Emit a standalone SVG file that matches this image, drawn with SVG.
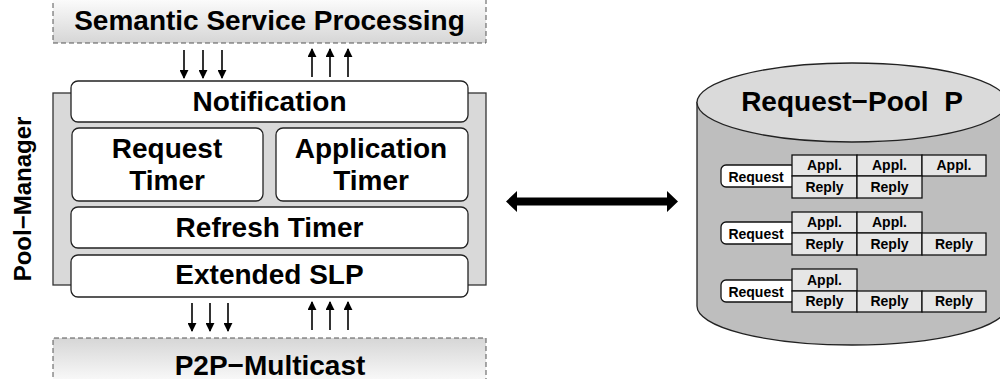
<svg xmlns="http://www.w3.org/2000/svg" width="1000" height="379" viewBox="0 0 1000 379">
<style>
text{font-family:"Liberation Sans",Arial,Helvetica,sans-serif;font-weight:bold;fill:#000}
.big{font-size:28px}
.sm{font-size:14px}
.box{fill:#fff;stroke:#222;stroke-width:1.3}
.dash{stroke:#555;stroke-width:1;stroke-dasharray:5 3}
.cell{fill:#e6e6e6;stroke:#111;stroke-width:1.3}
.pill{fill:#fff;stroke:#111;stroke-width:1.3}
.ar{stroke:#000;stroke-width:1.6;fill:none}
</style>
<defs>
<linearGradient id="gTop" x1="0" y1="0" x2="0" y2="1">
<stop offset="0" stop-color="#ffffff"/>
<stop offset="1" stop-color="#d6d6d6"/>
</linearGradient>
<linearGradient id="gBot" x1="0" y1="0" x2="0" y2="1">
<stop offset="0" stop-color="#d6d6d6"/>
<stop offset="1" stop-color="#ffffff"/>
</linearGradient>
<marker id="ah" viewBox="0 0 10 10" refX="9" refY="5" markerWidth="9" markerHeight="9" markerUnits="userSpaceOnUse" orient="auto">
<path d="M0,0 L10,5 L0,10 z" fill="#000"/>
</marker>
</defs>

<g id="semantic">
<rect x="53" y="-5" width="433" height="48" fill="url(#gTop)"/>
<path class="dash" d="M53,-5 V43 H486 V-5" fill="none"/>
<text class="big" x="269.5" y="30" text-anchor="middle">Semantic Service Processing</text>
</g>

<g id="p2p">
<rect x="53" y="338" width="433" height="50" fill="url(#gBot)"/>
<path class="dash" d="M53,385 V338 H486 V385" fill="none"/>
<text class="big" x="270" y="375" text-anchor="middle">P2P−Multicast</text>
</g>

<g id="pool-manager">
<rect x="53" y="93" width="433" height="192" fill="#d9d9d9" stroke="#333" stroke-width="1.3"/>
<text x="31" y="199" font-size="24" text-anchor="middle" transform="rotate(-90 31 199)">Pool−Manager</text>
</g>

<g id="notification">
<rect class="box" x="71" y="81" width="397" height="41" rx="7"/>
<text class="big" x="269.5" y="111" text-anchor="middle">Notification</text>
</g>
<g id="request-timer">
<rect class="box" x="72" y="128" width="191" height="73" rx="7"/>
<text class="big" x="167" y="158" text-anchor="middle">Request</text>
<text class="big" x="167" y="190" text-anchor="middle">Timer</text>
</g>
<g id="application-timer">
<rect class="box" x="276" y="128" width="192" height="73" rx="7"/>
<text class="big" x="371" y="158" text-anchor="middle">Application</text>
<text class="big" x="371" y="190" text-anchor="middle">Timer</text>
</g>
<g id="refresh-timer">
<rect class="box" x="71" y="207" width="397" height="41" rx="7"/>
<text class="big" x="269.5" y="237" text-anchor="middle">Refresh Timer</text>
</g>
<g id="extended-slp">
<rect class="box" x="71" y="255" width="397" height="42" rx="7"/>
<text class="big" x="269.5" y="284" text-anchor="middle">Extended SLP</text>
</g>

<g id="request-pool">
<path d="M697,102.5 V306 A155,39 0 0 0 1007,306 V102.5 z" fill="#bebebe" stroke="#222" stroke-width="1.3"/>
<ellipse cx="852" cy="102.5" rx="155" ry="39.5" fill="#dadada" stroke="#222" stroke-width="1.3"/>
<text x="852" y="111" font-size="28" text-anchor="middle" xml:space="preserve">Request−Pool  P</text>

<g id="entry1">
<rect class="pill" x="721" y="165" width="75" height="22" rx="5"/>
<text class="sm" x="756" y="181.5" text-anchor="middle">Request</text>
<rect class="cell" x="792" y="155" width="65" height="21"/>
<rect class="cell" x="857" y="155" width="65" height="21"/>
<rect class="cell" x="922" y="155" width="64" height="21"/>
<rect class="cell" x="792" y="176" width="65" height="22"/>
<rect class="cell" x="857" y="176" width="65" height="22"/>
<text class="sm" x="824.5" y="170" text-anchor="middle">Appl.</text>
<text class="sm" x="889.5" y="170" text-anchor="middle">Appl.</text>
<text class="sm" x="954" y="170" text-anchor="middle">Appl.</text>
<text class="sm" x="824.5" y="191.5" text-anchor="middle">Reply</text>
<text class="sm" x="889.5" y="191.5" text-anchor="middle">Reply</text>
</g>

<g id="entry2">
<rect class="pill" x="721" y="222" width="75" height="22" rx="5"/>
<text class="sm" x="756" y="238.5" text-anchor="middle">Request</text>
<rect class="cell" x="792" y="212" width="65" height="21"/>
<rect class="cell" x="857" y="212" width="65" height="21"/>
<rect class="cell" x="792" y="233" width="65" height="22"/>
<rect class="cell" x="857" y="233" width="65" height="22"/>
<rect class="cell" x="922" y="233" width="64" height="22"/>
<text class="sm" x="824.5" y="227" text-anchor="middle">Appl.</text>
<text class="sm" x="889.5" y="227" text-anchor="middle">Appl.</text>
<text class="sm" x="824.5" y="248.5" text-anchor="middle">Reply</text>
<text class="sm" x="889.5" y="248.5" text-anchor="middle">Reply</text>
<text class="sm" x="954" y="248.5" text-anchor="middle">Reply</text>
</g>

<g id="entry3">
<rect class="pill" x="721" y="280" width="75" height="22" rx="5"/>
<text class="sm" x="756" y="296.5" text-anchor="middle">Request</text>
<rect class="cell" x="792" y="269" width="65" height="22"/>
<rect class="cell" x="792" y="291" width="65" height="21"/>
<rect class="cell" x="857" y="291" width="65" height="21"/>
<rect class="cell" x="922" y="291" width="64" height="21"/>
<text class="sm" x="824.5" y="284.5" text-anchor="middle">Appl.</text>
<text class="sm" x="824.5" y="306" text-anchor="middle">Reply</text>
<text class="sm" x="889.5" y="306" text-anchor="middle">Reply</text>
<text class="sm" x="954" y="306" text-anchor="middle">Reply</text>
</g>
</g>

<g id="connectors">
<line class="ar" x1="184" y1="50" x2="184" y2="78" marker-end="url(#ah)"/>
<line class="ar" x1="203" y1="50" x2="203" y2="78" marker-end="url(#ah)"/>
<line class="ar" x1="222" y1="50" x2="222" y2="78" marker-end="url(#ah)"/>
<line class="ar" x1="312" y1="77" x2="312" y2="49" marker-end="url(#ah)"/>
<line class="ar" x1="330" y1="77" x2="330" y2="49" marker-end="url(#ah)"/>
<line class="ar" x1="348" y1="77" x2="348" y2="49" marker-end="url(#ah)"/>
<line class="ar" x1="192" y1="303" x2="192" y2="331" marker-end="url(#ah)"/>
<line class="ar" x1="210" y1="303" x2="210" y2="331" marker-end="url(#ah)"/>
<line class="ar" x1="228" y1="303" x2="228" y2="331" marker-end="url(#ah)"/>
<line class="ar" x1="312" y1="330" x2="312" y2="302" marker-end="url(#ah)"/>
<line class="ar" x1="330" y1="330" x2="330" y2="302" marker-end="url(#ah)"/>
<line class="ar" x1="348" y1="330" x2="348" y2="302" marker-end="url(#ah)"/>
<path d="M506,201.5 L517,191 L517,197.5 L667,197.5 L667,191 L678,201.5 L667,212 L667,205.5 L517,205.5 L517,212 z" fill="#000"/>
</g>
</svg>
